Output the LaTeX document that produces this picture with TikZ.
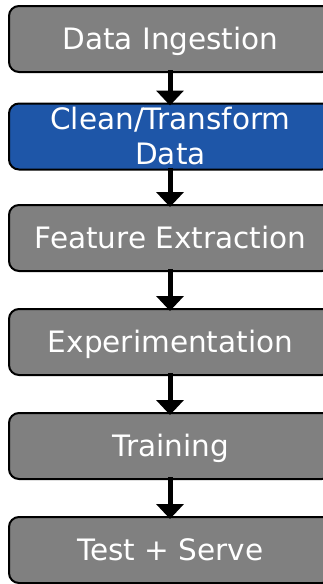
\documentclass[tikz,border=0pt]{standalone}
\usepackage{fontspec}
\setmainfont{DejaVu Sans}
\usetikzlibrary{arrows.meta}
\definecolor{boxgray}{RGB}{128,128,128}
\definecolor{boxblue}{RGB}{30,86,168}
\tikzset{
  stagebase/.style={draw=black, line width=2pt, fill=boxgray, rounded corners=10pt,
    minimum width=323pt, minimum height=66pt, inner sep=0pt, text=white,
    font=\fontsize{29.5pt}{35pt}\selectfont, align=center},
  stagebox/.style={stagebase, text height=21.5pt, text depth=0pt},
  flowarrow/.style={line width=5pt, -{Triangle[width=27pt,length=15pt]}, shorten <=-3pt, shorten >=-3pt}
}
\begin{document}
\begin{tikzpicture}[x=1pt,y=-1pt]
\useasboundingbox (0,0) rectangle (323,584);
\node[stagebox] (n1) at (170.5,39) {Data Ingestion};
\node[stagebase, fill=boxblue, text height=56pt, text depth=0pt] (n2) at (170.5,136.5) {Clean/Transform\\Data};
\node[stagebox] (n3) at (170.5,238) {Feature Extraction};
\node[stagebox] (n4) at (170.5,342) {Experimentation};
\node[stagebox] (n5) at (170.5,446) {Training};
\node[stagebox] (n6) at (170.5,550) {Test + Serve};
\draw[flowarrow] (n1.south -| 170,0) -- (n2.north -| 170,0);
\draw[flowarrow] (n2.south -| 170,0) -- (n3.north -| 170,0);
\draw[flowarrow] (n3.south -| 170,0) -- (n4.north -| 170,0);
\draw[flowarrow] (n4.south -| 170,0) -- (n5.north -| 170,0);
\draw[flowarrow] (n5.south -| 170,0) -- (n6.north -| 170,0);
\end{tikzpicture}
\end{document}
